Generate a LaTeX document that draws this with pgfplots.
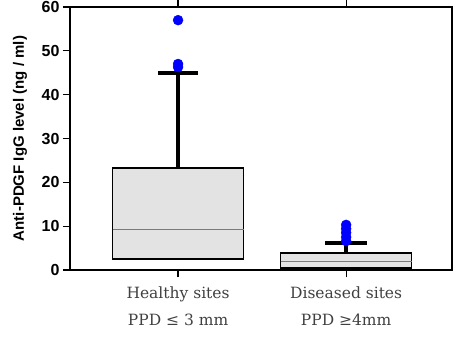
\documentclass[border=0pt]{standalone}
\usepackage{pgfplots}
\pgfplotsset{compat=1.18}
\usepgfplotslibrary{statistics}
\usepackage{fontspec}
\setmainfont{DejaVu Serif}
\newfontfamily\lab{Liberation Sans}
\definecolor{boxfill}{HTML}{E3E3E3}
\definecolor{medgray}{HTML}{7A7A7A}
\definecolor{lblgray}{HTML}{404040}
\begin{document}
\begin{tikzpicture}
\begin{axis}[
  at={(0pt,0pt)}, anchor=south west,
  scale only axis, width=382pt, height=263pt,
  xmin=0.357, xmax=2.63, ymin=0, ymax=60,
  axis line style={line width=2pt},
  xtick={1,2},
  xticklabels={{Healthy sites\\PPD ≤ 3 mm},{Diseased sites\\PPD ≥4mm}},
  xticklabel style={align=center, font=\fontsize{15.5}{27}\selectfont, text=lblgray, yshift=-6pt},
  ytick={0,10,...,60},
  yticklabel style={font=\lab\bfseries\fontsize{16}{16}\selectfont},
  /pgf/number format/assume math mode=true,
  tick style={black, line width=1.2pt},
  major tick length=7pt,
  tick align=outside,
  ytick pos=left, xtick pos=both,
  ylabel={Anti-PDGF IgG level (ng / ml)},
  every axis y label/.style={at={(axis description cs:-0.131,0.5)}, rotate=90, anchor=center, font=\lab\bfseries\fontsize{15}{15}\selectfont},
  boxplot/draw direction=y,
  boxplot/draw/lower whisker/.code={},
]
\addplot[boxplot prepared={draw position=1, median=9.2, upper quartile=23.3, lower quartile=2.5, upper whisker=45, lower whisker=0, box extend=0.78, whisker extend=0.24,
  draw direction=y,
  every box/.style={draw=black, line width=1.4pt, fill=boxfill},
  every median/.style={medgray, line width=1pt},
  every whisker/.style={black, line width=4pt}},
  mark=*, mark options={draw=blue, fill=blue, solid}, mark size=5pt]
  table[row sep=\\, y index=0, header=false] {57\\47\\46.3\\};
\addplot[boxplot prepared={draw position=2, median=1.9, upper quartile=3.9, lower quartile=0.5, upper whisker=6.2, lower whisker=0, box extend=0.78, whisker extend=0.25,
  draw direction=y,
  every box/.style={draw=black, line width=1.4pt, fill=boxfill},
  every median/.style={medgray, line width=1pt},
  every whisker/.style={black, line width=3.5pt}},
  mark=*, mark options={draw=blue, fill=blue, solid}, mark size=5pt]
  table[row sep=\\, y index=0, header=false] {10.3\\9.4\\8.5\\7.5\\6.6\\};
\end{axis}
\pgfresetboundingbox
\path[use as bounding box] (-70pt,-68pt) rectangle (388pt,270pt);
\end{tikzpicture}
\end{document}
